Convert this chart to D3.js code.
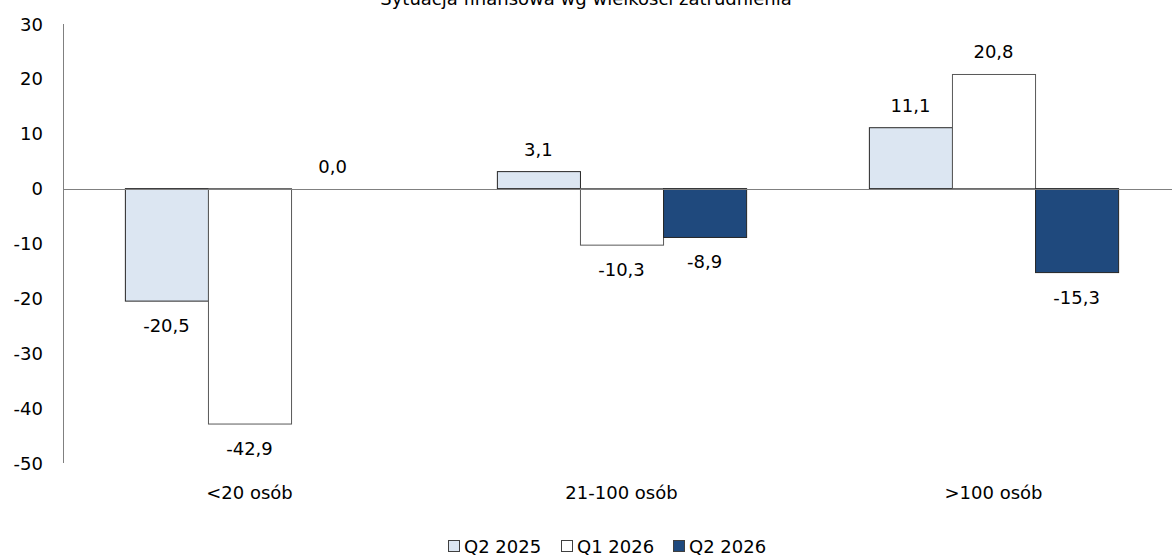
<!DOCTYPE html>
<html>
<head>
<meta charset="utf-8">
<script src="https://cdn.jsdelivr.net/npm/d3@7"></script>
<style>
  body { margin: 0; background: #fff; }
  svg text { font-family: "DejaVu Sans", Verdana, sans-serif; font-size: 18px; fill: #000; }
</style>
</head>
<body>
<svg id="chart" width="1172" height="557"></svg>
<script>
//chart data
var title = 'Sytuacja finansowa wg wielkości zatrudnienia';
var categories = ['<20 osób', '21-100 osób', '>100 osób'];
var seriesNames = ['Q2 2025', 'Q1 2026', 'Q2 2026'];
var q2_2025 = [-20.5, 3.1, 11.1];
var q1_2026 = [-42.9, -10.3, 20.8];
var q2_2026 = [0.0, -8.9, -15.3];
var yTicks = [30, 20, 10, 0, -10, -20, -30, -40, -50];

var seriesValues = [q2_2025, q1_2026, q2_2026];
var seriesColors = ['#DCE6F2', '#FFFFFF', '#1F497D'];

var svg = d3.select('#chart');
var fmt = function(v) { return v.toFixed(1).replace('.', ','); };

//scales
var y = d3.scaleLinear().domain([-50, 30]).range([463, 24]);
var x = d3.scaleBand().domain(categories).range([63.5, 1179.5])
  .paddingInner(0.33).paddingOuter(0.165);
var xs = d3.scaleBand().domain(seriesNames).range([0, x.bandwidth()]);

//title (clipped at top like the source)
svg.append('text')
  .attr('x', 586).attr('y', 5)
  .attr('text-anchor', 'middle')
  .text(title);

//y tick labels
svg.selectAll('.ytick').data(yTicks).enter().append('text')
  .attr('class', 'ytick')
  .attr('x', 43)
  .attr('y', function(d) { return y(d) + 6.5; })
  .attr('text-anchor', 'end')
  .text(function(d) { return d; });

//bars
var groups = svg.selectAll('.grp').data(categories).enter().append('g')
  .attr('class', 'grp')
  .attr('transform', function(d) { return 'translate(' + x(d) + ',0)'; });

seriesNames.forEach(function(s, si) {
  groups.append('rect')
    .attr('x', xs(s) + 0.5)
    .attr('y', function(d, i) { return Math.min(y(seriesValues[si][i]), y(0)); })
    .attr('width', xs.bandwidth())
    .attr('height', function(d, i) { return Math.abs(y(seriesValues[si][i]) - y(0)); })
    .attr('fill', seriesColors[si])
    .attr('stroke', seriesValues[si] === q1_2026 ? '#595959' : '#262626')
    .attr('stroke-width', 1);

  groups.append('text')
    .attr('x', xs(s) + xs.bandwidth() / 2)
    .attr('y', function(d, i) {
      var v = seriesValues[si][i];
      return v >= 0 ? y(v) - 16 : y(v) + 31;
    })
    .attr('text-anchor', 'middle')
    .text(function(d, i) { return fmt(seriesValues[si][i]); });
});

//axes lines
svg.append('line')
  .attr('x1', 63).attr('x2', 1172)
  .attr('y1', Math.round(y(0)) + 0.5).attr('y2', Math.round(y(0)) + 0.5)
  .attr('stroke', '#808080').attr('stroke-width', 1);
svg.append('line')
  .attr('x1', 63.5).attr('x2', 63.5)
  .attr('y1', y(30)).attr('y2', y(-50))
  .attr('stroke', '#808080').attr('stroke-width', 1);

//x labels
svg.selectAll('.xlab').data(categories).enter().append('text')
  .attr('class', 'xlab')
  .attr('x', function(d) { return x(d) + x.bandwidth() / 2; })
  .attr('y', 498.5)
  .attr('text-anchor', 'middle')
  .text(function(d) { return d; });

//legend
var legendX = [448, 561, 673];
var legend = svg.selectAll('.leg').data(seriesNames).enter().append('g')
  .attr('class', 'leg')
  .attr('transform', function(d, i) { return 'translate(' + legendX[i] + ',540)'; });
legend.append('rect')
  .attr('x', 0.5).attr('y', 0.5)
  .attr('width', 11).attr('height', 11)
  .attr('fill', function(d, i) { return seriesColors[i]; })
  .attr('stroke', '#404040');
legend.append('text')
  .attr('x', 16).attr('y', 12.5)
  .text(function(d) { return d; });
</script>
</body>
</html>
